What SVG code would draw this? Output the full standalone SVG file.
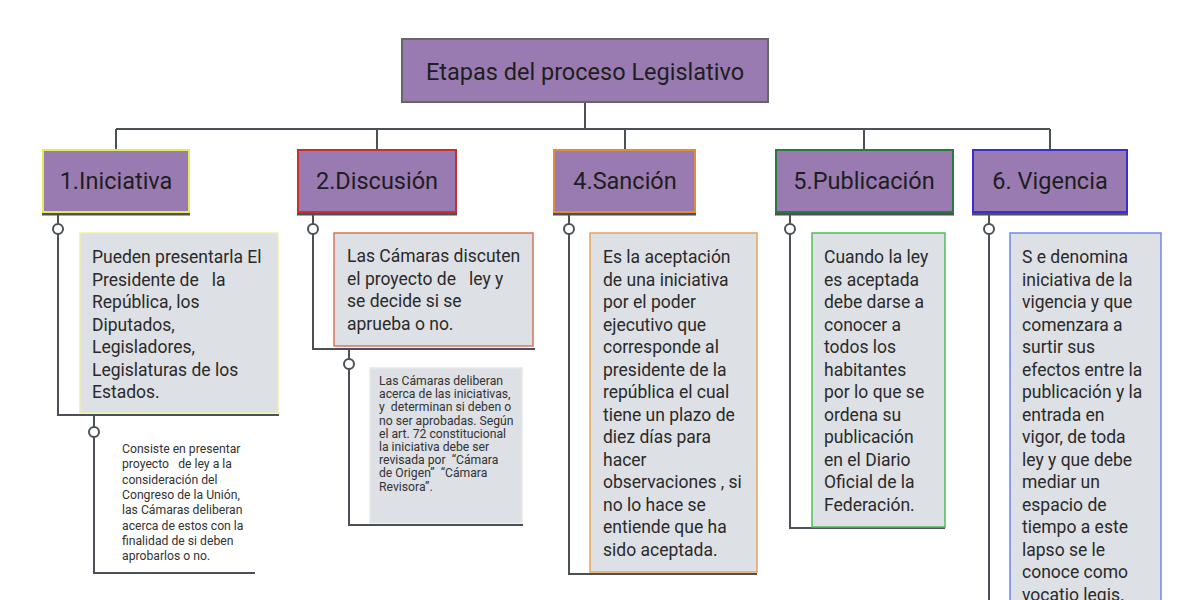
<svg xmlns="http://www.w3.org/2000/svg" width="1200" height="600" viewBox="0 0 1200 600">
<style>
.hdr{fill:#997bb2;stroke-width:2}
.ht{font-family:Roboto,"Liberation Sans",sans-serif;font-size:23.5px;fill:#1e1e1e;text-anchor:middle}
.box{fill:#dde0e4;stroke-width:1.5}
.bt{font-family:Roboto,"Liberation Sans",sans-serif;font-size:17.5px;fill:#2a2a2a}
.st{font-family:Roboto,"Liberation Sans",sans-serif;font-size:12.2px;fill:#333}
.ln{stroke:#4b5157;stroke-width:2;fill:none}
.ul{stroke:#4b5157;stroke-width:3;fill:none}
.dot{fill:#fff;stroke:#4b5157;stroke-width:2}
</style>
<rect width="1200" height="600" fill="#fff"/>
<g id="connectors">
<path class="ln" d="M585 102V129M116 129H1050M116 129V149M377 129V149M625 129V149M864 129V149M1050 129V149"/>
<path class="ul" d="M42 214H190M297 214H457M553 214H696M775 214H954M972 214H1128"/>
<path class="ln" d="M58 214V415H279M94 415V573H255"/>
<path class="ln" d="M313 214V349H535M349 349V525H523"/>
<path class="ln" d="M569 214V574H757"/>
<path class="ln" d="M790 214V528H945"/>
<path class="ln" d="M989 214V600"/>
<circle class="dot" cx="58" cy="229" r="5"/>
<circle class="dot" cx="94" cy="432" r="5"/>
<circle class="dot" cx="313" cy="229" r="5"/>
<circle class="dot" cx="349" cy="364" r="5"/>
<circle class="dot" cx="569" cy="229" r="5"/>
<circle class="dot" cx="790" cy="229" r="5"/>
<circle class="dot" cx="989" cy="229" r="5"/>
</g>
<g id="title">
<rect x="402" y="39" width="366" height="63" fill="#997bb2" stroke="#666" stroke-width="2"/>
<text class="ht" x="585" y="80" font-size="25">Etapas del proceso Legislativo</text>
</g>
<g id="iniciativa">
<rect class="hdr" x="43" y="150" width="146" height="62" stroke="#e2ea5e"/>
<text class="ht" x="116" y="189">1.Iniciativa</text>
</g>
<g id="iniciativa-desc">
<rect class="box" x="80" y="233" width="198" height="180" stroke="#eef0a8"/>
<text class="bt" x="92" fill="#3a3a3a"><tspan x="92" y="263">Pueden presentarla El</tspan><tspan x="92" y="285.5" xml:space="preserve">Presidente de   la</tspan><tspan x="92" y="308">República, los</tspan><tspan x="92" y="330.5">Diputados,</tspan><tspan x="92" y="353">Legisladores,</tspan><tspan x="92" y="375.5">Legislaturas de los</tspan><tspan x="92" y="398">Estados.</tspan></text>
</g>
<g id="iniciativa-detalle">
<text class="st" fill="#444"><tspan x="122" y="453">Consiste en presentar</tspan><tspan x="122" y="468.3" xml:space="preserve">proyecto   de ley a la</tspan><tspan x="122" y="483.6">consideración del</tspan><tspan x="122" y="498.9">Congreso de la Unión,</tspan><tspan x="122" y="514.2">las Cámaras deliberan</tspan><tspan x="122" y="529.5">acerca de estos con la</tspan><tspan x="122" y="544.8">finalidad de si deben</tspan><tspan x="122" y="560">aprobarlos o no.</tspan></text>
</g>
<g id="discusion">
<rect class="hdr" x="298" y="150" width="158" height="62" stroke="#c8302c"/>
<text class="ht" x="377" y="189">2.Discusión</text>
</g>
<g id="discusion-desc">
<rect class="box" x="334" y="233" width="199" height="113" stroke="#d9735a"/>
<text class="bt"><tspan x="347" y="262">Las Cámaras discuten</tspan><tspan x="347" y="284.5" xml:space="preserve">el proyecto de   ley y</tspan><tspan x="347" y="307">se decide si se</tspan><tspan x="347" y="329.5">aprueba o no.</tspan></text>
</g>
<g id="discusion-detalle">
<rect class="box" x="370" y="368" width="152" height="155" stroke="#e6e7e9"/>
<text class="st" font-size="12"><tspan x="379" y="385">Las Cámaras deliberan</tspan><tspan x="379" y="398.2">acerca de las iniciativas,</tspan><tspan x="379" y="411.4" xml:space="preserve">y  determinan si deben o</tspan><tspan x="379" y="424.6">no ser aprobadas. Según</tspan><tspan x="379" y="437.8">el art. 72 constitucional</tspan><tspan x="379" y="451">la iniciativa debe ser</tspan><tspan x="379" y="464.2" xml:space="preserve">revisada por  “Cámara</tspan><tspan x="379" y="477.4" xml:space="preserve">de Origen”  “Cámara</tspan><tspan x="379" y="490.6">Revisora”.</tspan></text>
</g>
<g id="sancion">
<rect class="hdr" x="554" y="150" width="141" height="62" stroke="#e08c3c"/>
<text class="ht" x="625" y="189">4.Sanción</text>
</g>
<g id="sancion-desc">
<rect class="box" x="590" y="233" width="167" height="339" stroke="#e8a25a"/>
<text class="bt"><tspan x="603" y="263">Es la aceptación</tspan><tspan x="603" y="285.5">de una iniciativa</tspan><tspan x="603" y="308">por el poder</tspan><tspan x="603" y="330.5">ejecutivo que</tspan><tspan x="603" y="353">corresponde al</tspan><tspan x="603" y="375.5">presidente de la</tspan><tspan x="603" y="398">república el cual</tspan><tspan x="603" y="420.5">tiene un plazo de</tspan><tspan x="603" y="443">diez días para</tspan><tspan x="603" y="465.5">hacer</tspan><tspan x="603" y="488">observaciones , si</tspan><tspan x="603" y="510.5">no lo hace se</tspan><tspan x="603" y="533">entiende que ha</tspan><tspan x="603" y="555.5">sido aceptada.</tspan></text>
</g>
<g id="publicacion">
<rect class="hdr" x="776" y="150" width="177" height="62" stroke="#2a7a3a"/>
<text class="ht" x="864" y="189">5.Publicación</text>
</g>
<g id="publicacion-desc">
<rect class="box" x="812" y="233" width="133" height="294" stroke="#4cbf5a"/>
<text class="bt"><tspan x="824" y="263">Cuando la ley</tspan><tspan x="824" y="285.5">es aceptada</tspan><tspan x="824" y="308">debe darse a</tspan><tspan x="824" y="330.5">conocer a</tspan><tspan x="824" y="353">todos los</tspan><tspan x="824" y="375.5">habitantes</tspan><tspan x="824" y="398">por lo que se</tspan><tspan x="824" y="420.5">ordena su</tspan><tspan x="824" y="443">publicación</tspan><tspan x="824" y="465.5">en el Diario</tspan><tspan x="824" y="488">Oficial de la</tspan><tspan x="824" y="510.5">Federación.</tspan></text>
</g>
<g id="vigencia">
<rect class="hdr" x="973" y="150" width="154" height="62" stroke="#3a2fc8"/>
<text class="ht" x="1050" y="189">6. Vigencia</text>
</g>
<g id="vigencia-desc">
<rect class="box" x="1010" y="233" width="151" height="380" stroke="#6f86ee"/>
<text class="bt"><tspan x="1022" y="263">S e denomina</tspan><tspan x="1022" y="285.5">iniciativa de la</tspan><tspan x="1022" y="308">vigencia y que</tspan><tspan x="1022" y="330.5">comenzara a</tspan><tspan x="1022" y="353">surtir sus</tspan><tspan x="1022" y="375.5">efectos entre la</tspan><tspan x="1022" y="398">publicación y la</tspan><tspan x="1022" y="420.5">entrada en</tspan><tspan x="1022" y="443">vigor, de toda</tspan><tspan x="1022" y="465.5">ley y que debe</tspan><tspan x="1022" y="488">mediar un</tspan><tspan x="1022" y="510.5">espacio de</tspan><tspan x="1022" y="533">tiempo a este</tspan><tspan x="1022" y="555.5">lapso se le</tspan><tspan x="1022" y="578">conoce como</tspan><tspan x="1022" y="600.5">vocatio legis.</tspan></text>
</g>
</svg>
